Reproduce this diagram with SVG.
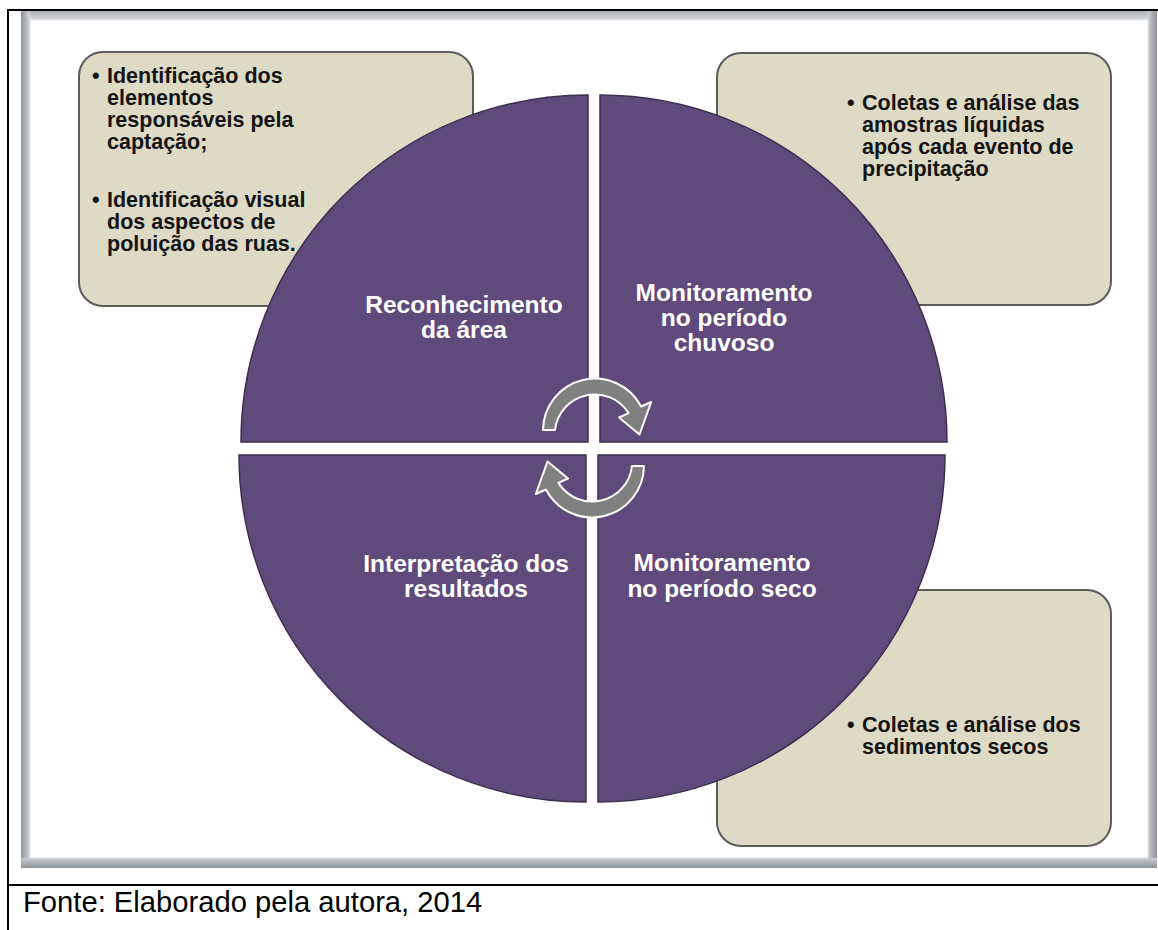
<svg xmlns="http://www.w3.org/2000/svg" width="1158" height="930" viewBox="0 0 1158 930">
<defs>
<linearGradient id="gl" x1="0" y1="0" x2="1" y2="0"><stop offset="0" stop-color="#8e9398"/><stop offset="1" stop-color="#d2d5d8"/></linearGradient>
<linearGradient id="gr" x1="0" y1="0" x2="1" y2="0"><stop offset="0" stop-color="#c9ccd0"/><stop offset="1" stop-color="#8e9398"/></linearGradient>
<linearGradient id="gt" x1="0" y1="0" x2="0" y2="1"><stop offset="0" stop-color="#a9adb1"/><stop offset="1" stop-color="#dcdee0"/></linearGradient>
<linearGradient id="gb" x1="0" y1="0" x2="0" y2="1"><stop offset="0" stop-color="#c9ccd0"/><stop offset="1" stop-color="#8e9398"/></linearGradient>
<style>
.box{fill:#dddac5;stroke:#5b5b5b;stroke-width:2}
.q{fill:#604a7b;stroke:#3e2f52;stroke-width:1.5}
.qt{font-family:"Liberation Sans",Arial,sans-serif;font-weight:bold;font-size:24.5px;fill:#ffffff;text-anchor:middle}
.bt{font-family:"Liberation Sans",Arial,sans-serif;font-weight:bold;font-size:21.5px;fill:#141414}
.arr{fill:#808080;stroke:#ffffff;stroke-width:2;stroke-linejoin:round}
.ln{stroke:#000;stroke-width:2}
</style>
</defs>
<rect width="1158" height="930" fill="#ffffff"/>
<!-- outer table lines -->
<line class="ln" x1="8" y1="10" x2="1158" y2="10"/>
<line class="ln" x1="8" y1="9" x2="8" y2="930"/>
<line class="ln" x1="8" y1="885" x2="1158" y2="885"/>
<!-- picture frame -->
<g id="frame">
<rect x="21" y="11" width="1136" height="857" fill="#a8acb0"/>
<rect x="21" y="11" width="9" height="857" fill="url(#gl)"/>
<rect x="1148" y="11" width="9" height="857" fill="url(#gr)"/>
<rect x="30" y="11" width="1118" height="9" fill="url(#gt)"/>
<rect x="21" y="858" width="1136" height="10" fill="url(#gb)"/>
<rect x="30" y="20" width="1118" height="838" fill="#ffffff" stroke="#e4e6e8" stroke-width="1"/>
</g>
<!-- side boxes -->
<g id="box-tl">
<rect class="box" x="79" y="52" width="394" height="254" rx="24"/>
<text class="bt"><tspan x="92" y="83">•</tspan><tspan x="107" y="83">Identificação dos</tspan><tspan x="107" y="105">elementos</tspan><tspan x="107" y="127">responsáveis pela</tspan><tspan x="107" y="149">captação;</tspan></text>
<text class="bt"><tspan x="92" y="207">•</tspan><tspan x="107" y="207">Identificação visual</tspan><tspan x="107" y="229">dos aspectos de</tspan><tspan x="107" y="251">poluição das ruas.</tspan></text>
</g>
<g id="box-tr">
<rect class="box" x="717" y="53" width="394" height="252" rx="24"/>
<text class="bt"><tspan x="847" y="110">•</tspan><tspan x="862" y="110">Coletas e análise das</tspan><tspan x="862" y="132">amostras líquidas</tspan><tspan x="862" y="154">após cada evento de</tspan><tspan x="862" y="176">precipitação</tspan></text>
</g>
<g id="box-br">
<rect class="box" x="717" y="590" width="394" height="256" rx="24"/>
<text class="bt"><tspan x="847" y="732">•</tspan><tspan x="862" y="732">Coletas e análise dos</tspan><tspan x="862" y="754">sedimentos secos</tspan></text>
</g>
<!-- quadrants -->
<g id="q-tl">
<path class="q" d="M588,442 L241,442 A347,347 0 0 1 588,95 Z"/>
<text class="qt"><tspan x="464" y="313">Reconhecimento</tspan><tspan x="464" y="338">da área</tspan></text>
</g>
<g id="q-tr">
<path class="q" d="M600,442 L600,95 A347,347 0 0 1 947,442 Z"/>
<text class="qt"><tspan x="724" y="301">Monitoramento</tspan><tspan x="724" y="326">no período</tspan><tspan x="724" y="351">chuvoso</tspan></text>
</g>
<g id="q-br">
<path class="q" d="M598,455 L945,455 A347,347 0 0 1 598,802 Z"/>
<text class="qt"><tspan x="722" y="571">Monitoramento</tspan><tspan x="722" y="597">no período seco</tspan></text>
</g>
<g id="q-bl">
<path class="q" d="M586,455 L586,802 A347,347 0 0 1 239,455 Z"/>
<text class="qt"><tspan x="466" y="572">Interpretação dos</tspan><tspan x="466" y="597">resultados</tspan></text>
</g>
<!-- cycle arrows -->
<g id="connectors">
<path class="arr" d="M543,430 A52,52 0 0 1 641.1,406.5 L651.2,402 L639.5,434.5 L619,417.5 L628.6,413.1 A40,40 0 0 0 555,430 Z"/>
<path class="arr" transform="rotate(180 593.5 448)" d="M543,430 A52,52 0 0 1 641.1,406.5 L651.2,402 L639.5,434.5 L619,417.5 L628.6,413.1 A40,40 0 0 0 555,430 Z"/>
</g>
<text x="23" y="912" font-family="Liberation Sans,Arial,sans-serif" font-size="29.2" fill="#000">Fonte: Elaborado pela autora, 2014</text>
</svg>
